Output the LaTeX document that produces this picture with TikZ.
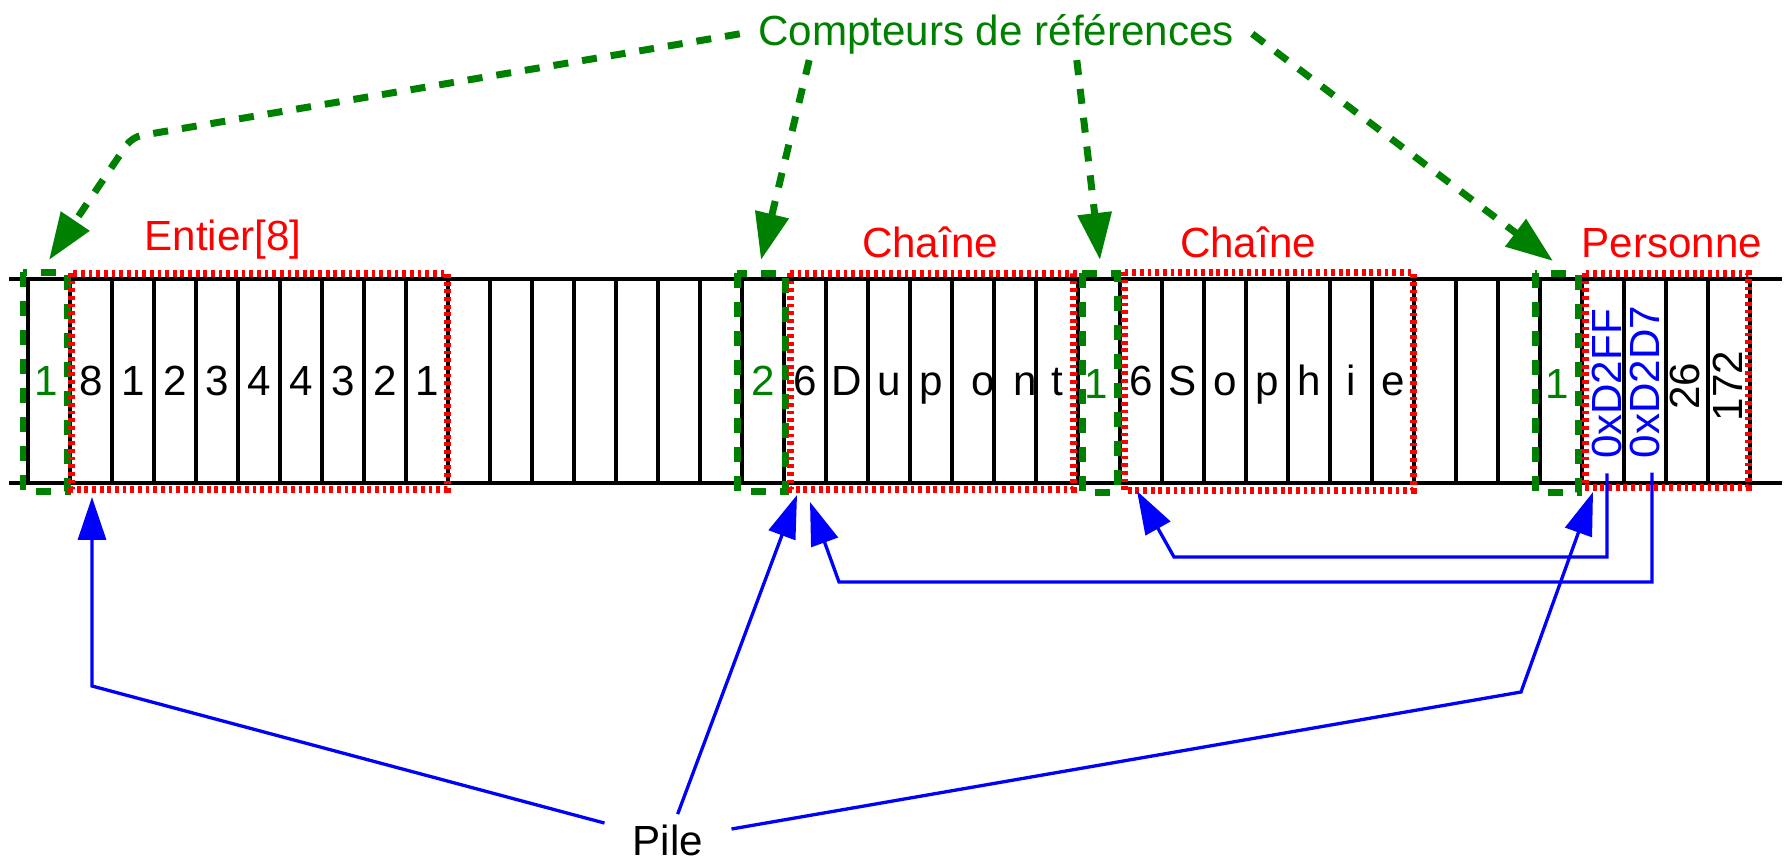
\documentclass[tikz,border=0pt]{standalone}
\usepackage{fontspec}
\setmainfont{Liberation Sans}
\usetikzlibrary{arrows.meta}

\begin{document}
\begin{tikzpicture}[x=0.02cm,y=-0.02cm]
\tikzstyle{every node}=[font=\fontsize{24}{28}\selectfont,inner sep=0.28cm]
\tikzstyle{memline}=[line width=0.066cm]
\tikzstyle{counter}=[draw=green!50!black,line width=0.14cm,dash pattern=on 0.3cm off 0.28cm]
\tikzstyle{typebox}=[draw=red,line width=0.14cm,dash pattern=on 0.075cm off 0.078cm]
\tikzstyle{cellval}=[anchor=base]
\tikzstyle{cntval}=[anchor=base,text=green!50!black]
\tikzstyle{typelbl}=[anchor=base,text=red]
\tikzstyle{pointer}=[blue,line width=0.066cm,-{Triangle[length=0.86cm,width=0.56cm]}]
\tikzstyle{cntarrow}=[green!50!black,line width=0.14cm,dash pattern=on 0.3cm off 0.28cm,-{Triangle[length=0.94cm,width=0.66cm]}]
\useasboundingbox (0,0) rectangle (1789,862);

% la pile
\draw[memline] (9,279) -- (1782,279) (9,483) -- (1782,483);
\foreach \k in {0,...,41}
  \draw[memline] ({28+42*\k},279) -- ({28+42*\k},483);

\foreach \v [count=\i] in {8,1,2,3,4,4,3,2,1}
  \node[cellval] (ent\i) at ({49+42*\i},395) {\v};
\foreach \v/\dx [count=\i from 18] in {6/0,D/0,u/0,p/0,o/10,n/10,t/0}
  \node[cellval] (dup\i) at ({49+42*\i+\dx},395) {\v};
\foreach \v [count=\i from 26] in {6,S,o,p,h,i,e}
  \node[cellval] (sop\i) at ({49+42*\i},395) {\v};

\node[cntval] (n1) at (46,395) {1};
\node[cntval] (n2) at (763,395) {2};
\node[cntval] (n3) at (1096,398) {1};
\node[cntval] (n4) at (1557,398) {1};

\node[rotate=90,text=blue] (adrA) at (1607,384) {0xD2FF};
\node[rotate=90,text=blue] (adrB) at (1645,382) {0xD2D7};
\node[rotate=90] (age) at (1685,386) {26};
\node[rotate=90] (taille) at (1728,386) {172};

% compteurs et objets
\draw[counter] (23,272) rectangle (67,491);
\draw[counter] (737,273) rectangle (785,491);
\draw[counter] (1082,273) rectangle (1117,492);
\draw[counter] (1535,273) rectangle (1578,492);

\draw[typebox] (71,273) rectangle (447,489);
\draw[typebox] (790,273) rectangle (1073,489);
\draw[typebox] (1124,272) rectangle (1413,490);
\draw[typebox] (1585,273) rectangle (1748,487);

\node[typelbl] (tEnt) at (223,250) {Entier[8]};
\node[typelbl] (tDup) at (930,257) {Chaîne};
\node[typelbl] (tSop) at (1248,257) {Chaîne};
\node[typelbl] (tPer) at (1672,257) {Personne};

\node[anchor=base,text=green!50!black,inner xsep=0.36cm,inner ysep=0.12cm] (cpt) at (996,45) {Compteurs de références};
\node[anchor=base,inner xsep=0.56cm,inner ysep=0.2cm] (pile) at (668,855) {Pile};

\coordinate (gE) at (49,260);
\coordinate (gD) at (761,260);
\coordinate (gS) at (1100,260);
\coordinate (gP) at (1553,261);
\coordinate (bE) at (92,497);
\coordinate (bD) at (797,495);
\coordinate (pD) at (810,502);
\coordinate (pS) at (1137,491);
\coordinate (bP) at (1593,492);

% fleches
\draw[cntarrow,rounded corners=0.2cm] (cpt.west) -- (132,137) -- (gE);
\draw[cntarrow] (cpt.188) -- (gD);
\draw[cntarrow] (cpt.342) -- (gS);
\draw[cntarrow] (cpt.east) -- (gP);

\draw[pointer] (adrA.west) |- (1174,557) -- (pS);
\draw[pointer] ([xshift=0.14cm]adrB.west) |- (839,582) -- (pD);

\draw[pointer] (pile) -- (92,686) -- (bE);
\draw[pointer] (pile) -- (bD);
\draw[pointer] (pile) -- (1521,692) -- (bP);
\end{tikzpicture}
\end{document}
